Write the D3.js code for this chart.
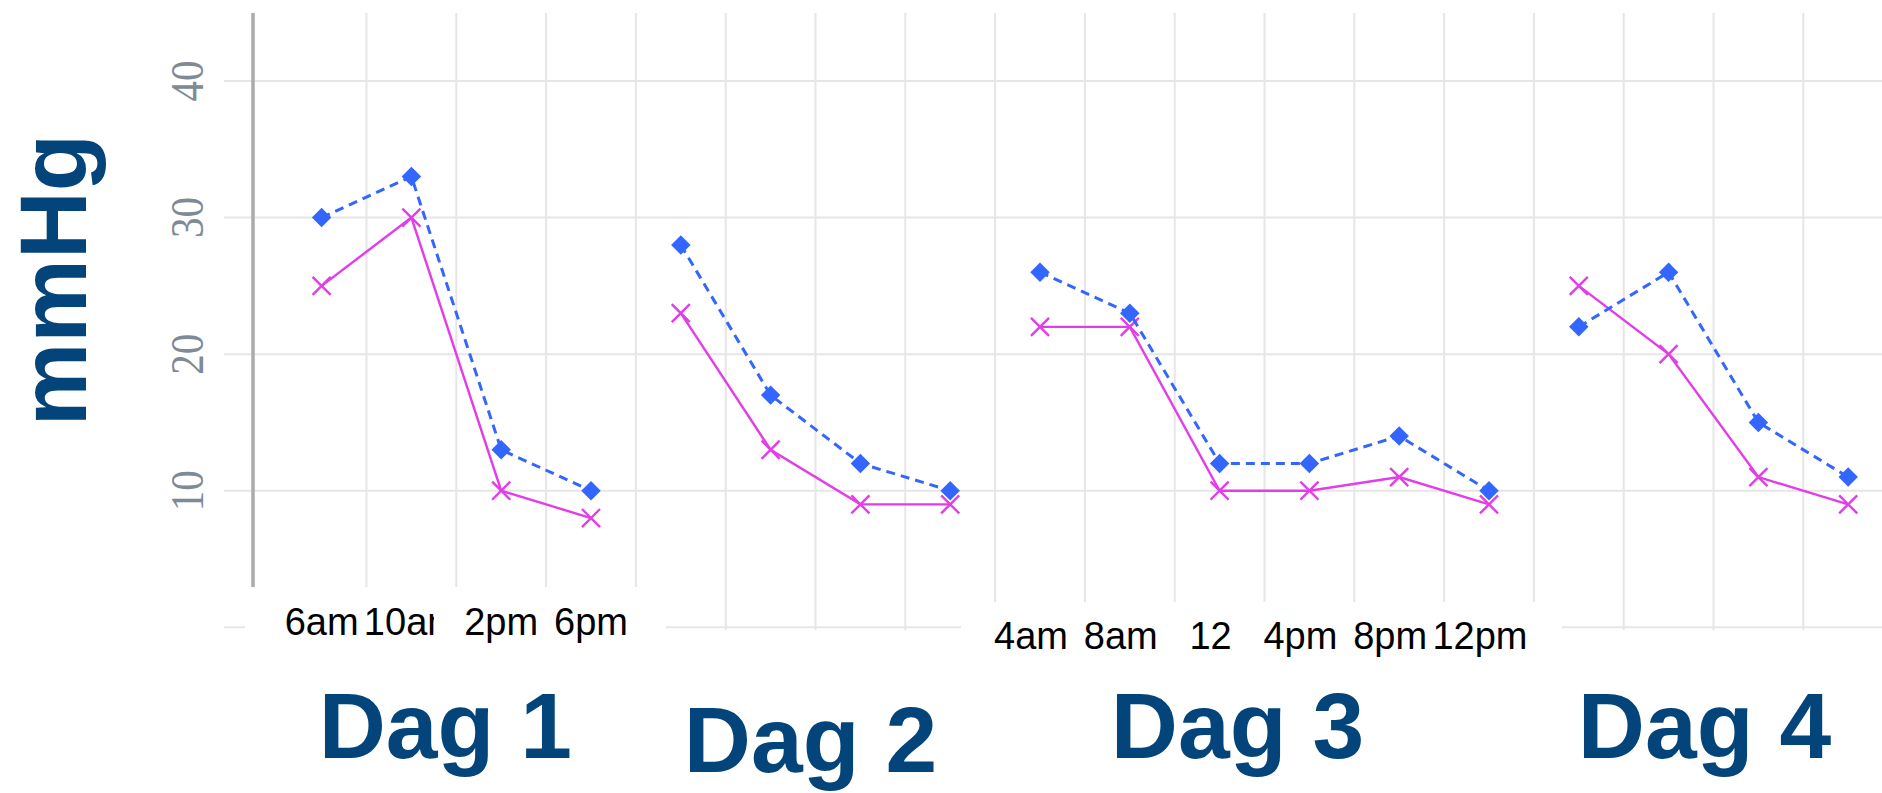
<!DOCTYPE html>
<html lang="nl">
<head>
  <meta charset="UTF-8" />
  <title>mmHg per dag</title>
  <script src="https://d3js.org/d3.v7.min.js"></script>
  <style>
    body {
      margin: 0;
      background: #ffffff;
      font-family: "Liberation Sans", Arial, sans-serif;
    }
    .grid line {
      stroke: #e6e6e6;
      stroke-width: 2;
    }
    .ytick {
      font-family: "Liberation Serif", serif;
      font-size: 41px;
      fill: #7f8a96;
    }
    .xtick {
      font-size: 38px;
      fill: #000;
    }
    .title {
      font-size: 93px;
      font-weight: bold;
      fill: #03457a;
    }
    .ylabel {
      font-size: 94px;
      font-weight: bold;
      fill: #03457a;
    }
  </style>
</head>
<body>
  <svg id="chart"></svg>
  <script>
    // waarden
    const days = ["Dag 1", "Dag 2", "Dag 3", "Dag 4"];
    const timeLabels = [
      ["6am", "10am", "2pm", "6pm"],
      [],
      ["4am", "8am", "12", "4pm", "8pm", "12pm"],
      []
    ];
    const blueValues = [
      [30, 33, 13, 10],
      [28, 17, 12, 10],
      [26, 23, 12, 12, 14, 10],
      [22, 26, 15, 11]
    ];
    const pinkValues = [
      [25, 30, 10, 8],
      [23, 13, 9, 9],
      [22, 22, 10, 10, 11, 9],
      [25, 20, 11, 9]
    ];
    const yTicks = [10, 20, 30, 40];

    const W = 1882, H = 793;
    const blue = "#3366ff", pink = "#e23de8";

    // layout of the pasted panels
    const gridTop = 13;
    const gridLeft = 224;
    const axisX = 253;
    const panelBottom = [587, 630, 602, 630];
    const labelBaseline = [635, null, 649, null];
    const labelShift = [0, 0, -9, 0];
    const titleBaseline = [758, 772, 758, 758];
    const titleShift = [-11, -5, -27, -9];

    const svg = d3.select("#chart").attr("width", W).attr("height", H);

    // one slot per measurement, days side by side
    const slots = [];
    days.forEach((d, i) => blueValues[i].forEach((v, j) => slots.push(`${i}-${j}`)));

    const x = d3.scaleBand().domain(slots).range([276.7, 276.7 + 89.8 * slots.length]);
    const y = d3.scaleLinear().domain([0, 40]).range([627.3, 81]);
    const cx = (i, j) => x(`${i}-${j}`) + x.bandwidth() / 2;

    // grid
    const grid = svg.append("g").attr("class", "grid");
    grid.selectAll(".h")
      .data([0, ...yTicks])
      .join("line")
      .attr("x1", gridLeft).attr("x2", W)
      .attr("y1", d => y(d)).attr("y2", d => y(d));
    grid.selectAll(".v")
      .data(slots.slice(1).concat(["end"]))
      .join("line")
      .attr("x1", d => d === "end" ? x.range()[1] : x(d))
      .attr("x2", d => d === "end" ? x.range()[1] : x(d))
      .attr("y1", gridTop).attr("y2", y(0) + 3);

    svg.append("line")
      .attr("x1", axisX).attr("x2", axisX)
      .attr("y1", gridTop).attr("y2", H)
      .attr("stroke", "#ababab").attr("stroke-width", 3.5);

    // white masks where the panels were cropped
    const panelExtent = i => {
      const n = blueValues[i].length;
      return [x(`${i}-0`), x(`${i}-${n - 1}`) + x.bandwidth()];
    };
    svg.append("rect")
      .attr("x", 245).attr("y", panelBottom[0])
      .attr("width", 666 - 245).attr("height", H - panelBottom[0])
      .attr("fill", "#fff");
    svg.append("rect")
      .attr("x", 961).attr("y", panelBottom[2])
      .attr("width", 1562 - 961).attr("height", H - panelBottom[2])
      .attr("fill", "#fff");

    // y tick labels
    svg.selectAll(".ytick")
      .data(yTicks)
      .join("text")
      .attr("class", "ytick")
      .attr("text-anchor", "middle")
      .attr("transform", d => `translate(187,${y(d)}) rotate(-90) scale(1,1.12)`)
      .attr("dy", "0.34em")
      .text(d => d);

    svg.append("text")
      .attr("class", "ylabel")
      .attr("text-anchor", "middle")
      .attr("transform", "translate(86,280) rotate(-90)")
      .text("mmHg");

    // the second label of day 1 is cut off in the original
    svg.append("clipPath").attr("id", "clip1")
      .append("rect").attr("x", 0).attr("y", 0).attr("width", 434).attr("height", H);

    const line = d3.line().x(d => d[0]).y(d => d[1]);
    const times = d3.symbol(d3.symbolTimes, 215);
    const diamond = d3.symbol(d3.symbolSquare, 190);

    days.forEach((day, i) => {
      const g = svg.append("g");

      // x labels
      g.selectAll(".xtick")
        .data(timeLabels[i])
        .join("text")
        .attr("class", "xtick")
        .attr("text-anchor", "middle")
        .attr("x", (d, j) => cx(i, j) + labelShift[i])
        .attr("y", labelBaseline[i])
        .attr("clip-path", (d, j) => i === 0 && j === 1 ? "url(#clip1)" : null)
        .text(d => d);

      const [x0, x1] = panelExtent(i);
      g.append("text")
        .attr("class", "title")
        .attr("text-anchor", "middle")
        .attr("x", (x0 + x1) / 2 + titleShift[i])
        .attr("y", titleBaseline[i])
        .text(day);

      const pinkPts = pinkValues[i].map((v, j) => [cx(i, j), y(v)]);
      const bluePts = blueValues[i].map((v, j) => [cx(i, j), y(v)]);

      g.append("path")
        .attr("d", line(pinkPts))
        .attr("fill", "none")
        .attr("stroke", pink)
        .attr("stroke-width", 2.4);
      g.selectAll(".x")
        .data(pinkPts)
        .join("path")
        .attr("transform", d => `translate(${d[0]},${d[1]})`)
        .attr("d", times)
        .attr("stroke", pink)
        .attr("stroke-width", 2.4)
        .attr("fill", "none");

      g.append("path")
        .attr("d", line(bluePts))
        .attr("fill", "none")
        .attr("stroke", blue)
        .attr("stroke-width", 3)
        .attr("stroke-dasharray", "9,6");
      g.selectAll(".d")
        .data(bluePts)
        .join("path")
        .attr("transform", d => `translate(${d[0]},${d[1]}) rotate(45)`)
        .attr("d", diamond)
        .attr("fill", blue);
    });
  </script>
</body>
</html>
